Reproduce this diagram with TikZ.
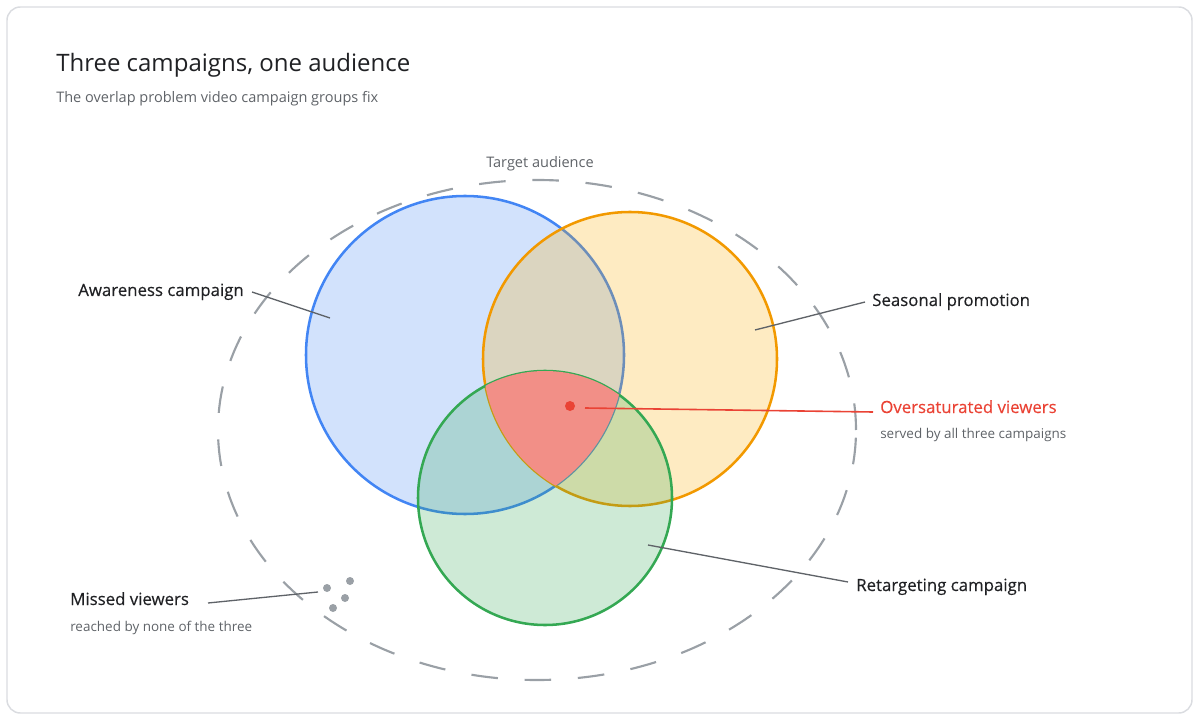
\documentclass[tikz,border=0pt]{standalone}
\usepackage{fontspec}
\setmainfont{Open Sans}
\definecolor{gblue}{HTML}{4285F4}
\definecolor{gorange}{HTML}{F29900}
\definecolor{gorfill}{HTML}{F9AB00}
\definecolor{ggreen}{HTML}{34A853}
\definecolor{gred}{HTML}{EA4335}
\definecolor{redfill}{HTML}{F28F87}
\definecolor{framec}{HTML}{DADCE0}
\definecolor{ink}{HTML}{202124}
\definecolor{subink}{HTML}{5F6368}
\definecolor{dashc}{HTML}{9AA0A6}
\tikzset{
  title/.style={anchor=base west, inner sep=0pt, text=ink, font=\fontsize{18}{20}\selectfont},
  subtitle/.style={anchor=base west, inner sep=0pt, text=subink, font=\fontsize{10.9}{12}\selectfont},
  lbl/.style={anchor=base west, inner sep=0pt, text=ink, font=\fontsize{12.6}{14}\selectfont\addfontfeature{FakeBold=0.35}},
  sublbl/.style={anchor=base west, inner sep=0pt, text=subink, font=\fontsize{10.1}{12}\selectfont},
  leader/.style={draw=subink, line width=1pt},
  venn/.style={line width=1.9pt, fill opacity=0.24},
  missdot/.style={fill=dashc, draw=none, circle, minimum size=6pt, inner sep=0pt},
}
\begin{document}
\begin{tikzpicture}[x=0.75pt,y=-0.75pt]
\useasboundingbox (0,0) rectangle (1200,720);
\draw[framec, line width=1.1pt, rounded corners=10pt] (7,7) rectangle (1192,713);

\node[title] (ttl) at (56,72) {Three campaigns, one audience};
\node[subtitle] (sub) at (56,103) {The overlap problem video campaign groups fix};

% target audience
\draw[dashc, line width=1.6pt, dash pattern=on 20pt off 20pt] (537,430) ellipse [x radius=319*0.75pt, y radius=250*0.75pt];
\node[subtitle, anchor=base] (tgt) at (540,168) {Target audience};

% circles
\path[venn, draw=gblue, fill=gblue] (465,355) circle [radius=159*0.75pt];
\path[venn, draw=gorange, fill=gorfill] (630,359) circle [radius=147*0.75pt];
\path[venn, draw=ggreen, fill=ggreen] (545,498) circle [radius=127*0.75pt];

% triple overlap
\begin{scope}
\clip (465,355) circle [radius=159*0.75pt];
\clip (630,359) circle [radius=147*0.75pt];
\fill[redfill] (545,498) circle [radius=127*0.75pt];
\end{scope}

% labels
\node[lbl] (aw) at (78,296) {Awareness campaign};
\coordinate (aw1) at (252,292);
\coordinate (aw2) at (330,318);
\draw[leader] (aw1) -- (aw2);

\node[lbl] (se) at (872,306) {Seasonal promotion};
\coordinate (se1) at (865,302);
\coordinate (se2) at (755,330);
\draw[leader] (se1) -- (se2);

\node[lbl] (re) at (856,591) {Retargeting campaign};
\coordinate (re1) at (848,582);
\coordinate (re2) at (648,545);
\draw[leader] (re1) -- (re2);

\node[lbl, text=gred] (ov) at (880,413) {Oversaturated viewers};
\node[sublbl] (ovs) at (880,438) {served by all three campaigns};
\node[fill=gred, circle, minimum size=7.5pt, inner sep=0pt] (dot) at (570,406) {};
\coordinate (ov1) at (585,408);
\coordinate (ov2) at (873,412);
\draw[gred, line width=1.2pt] (ov1) -- (ov2);

\node[lbl] (mi) at (70,605) {Missed viewers};
\node[sublbl] (mis) at (70,631) {reached by none of the three};
\coordinate (mi1) at (208,603);
\coordinate (mi2) at (318,592);
\draw[leader] (mi1) -- (mi2);
\node[missdot] (d1) at (327,588) {};
\node[missdot] (d2) at (350,581) {};
\node[missdot] (d3) at (345,598) {};
\node[missdot] (d4) at (333,608) {};
\end{tikzpicture}
\end{document}
